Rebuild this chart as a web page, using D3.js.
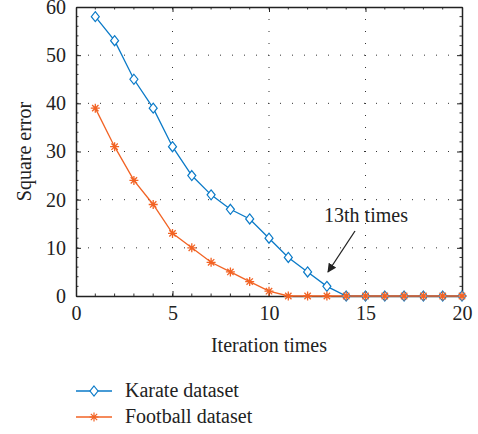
<!DOCTYPE html>
<html>
<head>
<meta charset="utf-8">
<script src="https://cdn.jsdelivr.net/npm/d3@7"></script>
<style>
body { margin: 0; background: #fff; }
text { font-family: "Liberation Serif", "DejaVu Serif", serif; fill: #222; }
</style>
</head>
<body>
<svg id="chart" width="478" height="434"></svg>
<script>
var iterations = [1,2,3,4,5,6,7,8,9,10,11,12,13,14,15,16,17,18,19,20];
var karate = [58,53,45,39,31,25,21,18,16,12,8,5,2,0,0,0,0,0,0,0];
var football = [39,31,24,19,13,10,7,5,3,1,0,0,0,0,0,0,0,0,0,0];
var xTicks = [0,5,10,15,20];
var yTicks = [0,10,20,30,40,50,60];

var blue = "#0a7ac8", orange = "#f26324";
var fs = 20;

var margin = {top: 7, right: 16, bottom: 138, left: 76},
width = 478 - margin.left - margin.right,
height = 434 - margin.top - margin.bottom;

var svg = d3.select("#chart");
var g = svg.append("g").attr("transform", "translate(" + margin.left + "," + margin.top + ")");

var x = d3.scaleLinear().domain([0, 20]).range([0, width]);
var y = d3.scaleLinear().domain([0, 60]).range([height, 0]);

// grid (dotted)
g.append("g").selectAll("line").data(xTicks.slice(1, -1)).enter().append("line")
.attr("x1", function(d){ return x(d); }).attr("x2", function(d){ return x(d); })
.attr("y1", 0).attr("y2", height)
.attr("stroke", "#333").attr("stroke-width", 1).attr("stroke-dasharray", "1,11");
g.append("g").selectAll("line").data(yTicks.slice(1, -1)).enter().append("line")
.attr("y1", function(d){ return y(d); }).attr("y2", function(d){ return y(d); })
.attr("x1", 0).attr("x2", width)
.attr("stroke", "#333").attr("stroke-width", 1).attr("stroke-dasharray", "1,11");

// minor ticks
var xMinor = d3.range(1, 20), yMinor = d3.range(2, 60, 2);
var minor = g.append("g").attr("stroke", "#333").attr("stroke-width", 1);
xMinor.forEach(function(d){
	minor.append("line").attr("x1", x(d)).attr("x2", x(d)).attr("y1", height).attr("y2", height - 2.5);
	minor.append("line").attr("x1", x(d)).attr("x2", x(d)).attr("y1", 0).attr("y2", 2.5);
});
yMinor.forEach(function(d){
	minor.append("line").attr("y1", y(d)).attr("y2", y(d)).attr("x1", 0).attr("x2", 2.5);
	minor.append("line").attr("y1", y(d)).attr("y2", y(d)).attr("x1", width).attr("x2", width - 2.5);
});

// axes
g.append("g").attr("transform", "translate(0," + height + ")")
.call(d3.axisBottom(x).tickValues(xTicks).tickSizeInner(-5).tickSizeOuter(0).tickPadding(10));
g.append("g")
.call(d3.axisLeft(y).tickValues(yTicks).tickSizeInner(-5).tickSizeOuter(0).tickPadding(10));
g.append("g").attr("transform", "translate(" + width + ",0)")
.call(d3.axisRight(y).tickValues(yTicks).tickSizeInner(-5).tickSizeOuter(0).tickFormat(""));
g.append("g")
.call(d3.axisTop(x).tickValues(xTicks).tickSizeInner(-5).tickSizeOuter(0).tickFormat(""));
g.selectAll(".domain").attr("stroke", "#222").attr("stroke-width", 1.5);
g.selectAll(".tick line").attr("stroke", "#222");
g.selectAll(".tick text").style("font-family", "Liberation Serif, serif").attr("font-size", fs).attr("fill", "#222");

// lines
var line = function(vals){
	return d3.line().x(function(d, i){ return x(iterations[i]); }).y(function(d){ return y(d); })(vals);
};

g.append("path").attr("d", line(karate)).attr("fill", "none").attr("stroke", blue).attr("stroke-width", 1.3);
g.append("path").attr("d", line(football)).attr("fill", "none").attr("stroke", orange).attr("stroke-width", 1.3);

var diamond = "M0,-5L4,0L0,5L-4,0Z";
var star = function(s){
	var p = "";
	for (var k = 0; k < 4; k++) {
		var a = k * Math.PI / 4;
		p += "M" + (-s * Math.cos(a)) + "," + (-s * Math.sin(a)) + "L" + (s * Math.cos(a)) + "," + (s * Math.sin(a));
	}
	return p;
};

g.append("g").selectAll("path").data(karate).enter().append("path")
.attr("transform", function(d, i){ return "translate(" + x(iterations[i]) + "," + y(d) + ")"; })
.attr("d", diamond).attr("fill", "#fff").attr("stroke", blue).attr("stroke-width", 1.2);

g.append("g").selectAll("path").data(football).enter().append("path")
.attr("transform", function(d, i){ return "translate(" + x(iterations[i]) + "," + y(d) + ")"; })
.attr("d", star(4.5)).attr("fill", "none").attr("stroke", orange).attr("stroke-width", 1.3);

// axis labels
svg.append("text").attr("x", margin.left + width / 2).attr("y", 352)
.attr("text-anchor", "middle").attr("font-size", fs).text("Iteration times");
svg.append("text").attr("transform", "translate(31," + (margin.top + height / 2) + ") rotate(-90)")
.attr("text-anchor", "middle").attr("font-size", fs).text("Square error");

// annotation
svg.append("defs").append("marker")
.attr("id", "arrow").attr("viewBox", "0 -5 10 10").attr("refX", 9).attr("refY", 0)
.attr("markerWidth", 7).attr("markerHeight", 7).attr("orient", "auto")
.append("path").attr("d", "M0,-5L10,0L0,5Z").attr("fill", "#222");
svg.append("text").attr("x", 366).attr("y", 222).attr("text-anchor", "middle")
.attr("font-size", fs).text("13th times");
svg.append("line").attr("x1", 355).attr("y1", 231).attr("x2", 328).attr("y2", 272)
.attr("stroke", "#222").attr("stroke-width", 1.3).attr("marker-end", "url(#arrow)");

// legend
var legend = [{name: "Karate dataset", color: blue, shape: diamond, fill: "#fff"},
	{name: "Football dataset", color: orange, shape: star(4.5), fill: "none"}];
var lg = svg.append("g").selectAll("g").data(legend).enter().append("g")
.attr("transform", function(d, i){ return "translate(76," + (391 + i * 26) + ")"; });
lg.append("line").attr("x1", 0).attr("x2", 36).attr("stroke", function(d){ return d.color; }).attr("stroke-width", 1.5);
lg.append("path").attr("transform", "translate(18,0)").attr("d", function(d){ return d.shape; })
.attr("fill", function(d){ return d.fill; }).attr("stroke", function(d){ return d.color; }).attr("stroke-width", 1.2);
lg.append("text").attr("x", 49).attr("y", 6).attr("font-size", fs).text(function(d){ return d.name; });
</script>
</body>
</html>
